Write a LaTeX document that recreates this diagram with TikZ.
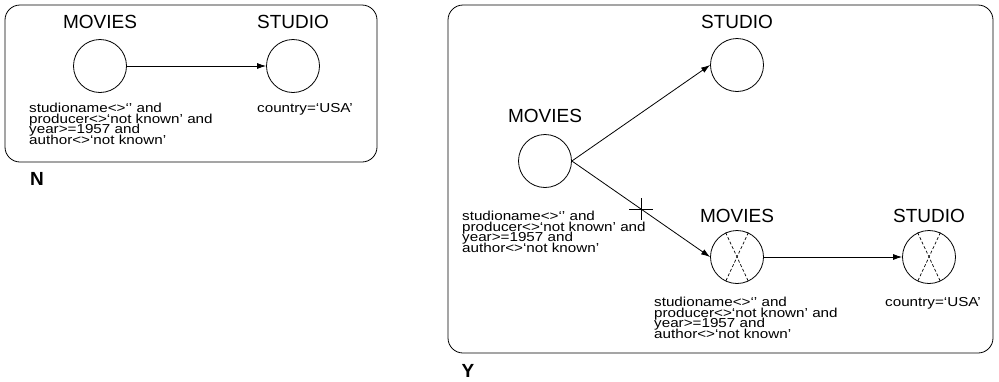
\documentclass[tikz,border=0pt]{standalone}
\usepackage{fontspec}
\setmainfont{Liberation Sans}
\newfontfamily\widesans[FakeStretch=1.17]{Liberation Sans}
\usetikzlibrary{arrows.meta,positioning}
\newcommand{\condfont}{\widesans\fontsize{13}{10.5}\selectfont\lineskiplimit=-20pt\relax}
\tikzset{
  rel/.style={draw, circle, minimum size=53pt, inner sep=0pt, line width=0.8pt},
  relname/.style={font=\fontsize{19}{19}\selectfont, inner sep=0pt},
  cond/.style={font=\condfont, align=left, inner sep=0pt, anchor=north west},
  boxlabel/.style={font=\bfseries\fontsize{19}{19}\selectfont, inner sep=0pt},
  frame/.style={draw, rounded corners=15pt, line width=0.8pt},
  link/.style={-{Latex[length=9pt,width=6pt]}, line width=0.8pt},
  xline/.style={line width=0.7pt, dash pattern=on 3pt off 2pt}
}
\newcommand{\condtext}{studioname<>‘’ and\\producer<>‘not known’ and\\year>=1957 and\\author<>‘not known’}

\begin{document}
\begin{tikzpicture}[x=1pt, y=-1pt]
\useasboundingbox (0,0) rectangle (999,381);
% N
\draw[frame] (5,5) rectangle (377,162);
\node[boxlabel] (nlab) at (37,179) {N};
\node[rel] (m1) at (100,66) {};
\node[rel] (s1) at (293,66) {};
\node[relname, above=10pt of m1] (m1lab) {MOVIES};
\node[relname, above=10pt of s1] (s1lab) {STUDIO};
\node[cond] (m1cond) at (29,103) {\condtext};
\node[cond] (s1cond) at (257,103) {country=‘USA’};
\draw[link] (m1.east) -- (s1.west);
% Y
\draw[frame] (448,5) rectangle (993,353);
\node[boxlabel] (ylab) at (468,371) {Y};
\node[rel] (m2) at (545,161) {};
\node[rel] (s2) at (737,65) {};
\node[rel] (m3) at (737,257) {};
\node[rel] (s3) at (929,257) {};
\node[relname, above=11pt of m2] (m2lab) {MOVIES};
\node[relname, above=9pt of s2] (s2lab) {STUDIO};
\node[relname, above=7pt of m3] (m3lab) {MOVIES};
\node[relname, above=7pt of s3] (s3lab) {STUDIO};
\node[cond] (m2cond) at (462,211) {\condtext};
\node[cond] (m3cond) at (654,297) {\condtext};
\node[cond] (s3cond) at (885,297) {country=‘USA’};
\foreach \r in {m3,s3} {
  \draw[xline] (\r.115) -- (\r.-65);
  \draw[xline] (\r.65) -- (\r.-115);
}
\draw[link] (m2.east) -- (s2.west);
\draw[link] (m2.east) -- coordinate[pos=0.5] (cut) (m3.west);
\draw[line width=0.8pt] (cut) ++(-12,0) -- ++(24,0);
\draw[line width=0.8pt] (cut) ++(0,-11) -- ++(0,22);
\draw[link] (m3.east) -- (s3.west);
\end{tikzpicture}
\end{document}
